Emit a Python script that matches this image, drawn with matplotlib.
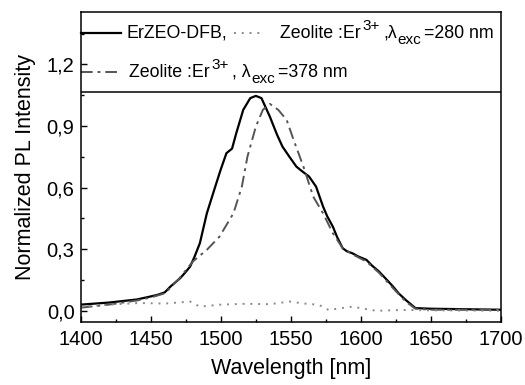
import matplotlib
matplotlib.use("Agg")
import matplotlib.pyplot as plt
from matplotlib.transforms import IdentityTransform
import numpy as np

plt.rcParams['font.family'] = ['Liberation Sans', 'DejaVu Sans']

# ErZEO-DFB (solid)
wl_dfb = [1400, 1420, 1440, 1450, 1455, 1460, 1464, 1471, 1475, 1478, 1481, 1485, 1490,
          1496, 1500, 1504, 1508, 1511, 1516, 1521, 1525, 1529, 1535, 1540, 1544, 1549,
          1554, 1558, 1563, 1568, 1573, 1576, 1580, 1583, 1587, 1590, 1594, 1598, 1604,
          1608, 1613, 1618, 1623, 1627, 1632, 1636, 1639, 1650, 1670, 1700]
pl_dfb = [0.03, 0.04, 0.055, 0.07, 0.078, 0.09, 0.118, 0.159, 0.19, 0.215, 0.26, 0.329, 0.475,
          0.605, 0.69, 0.768, 0.79, 0.865, 0.979, 1.036, 1.047, 1.036, 0.946, 0.86, 0.80, 0.75,
          0.702, 0.68, 0.654, 0.605, 0.508, 0.46, 0.41, 0.36, 0.305, 0.29, 0.28, 0.265, 0.248,
          0.22, 0.191, 0.155, 0.118, 0.085, 0.053, 0.03, 0.013, 0.01, 0.008, 0.005]

# Zeolite:Er3+, lambda_exc = 378 nm (dash-dot)
wl_378 = [1400, 1420, 1440, 1450, 1460, 1470, 1480, 1490, 1499, 1509, 1515, 1519,
          1525, 1530, 1535, 1541, 1547, 1552, 1559, 1566, 1573, 1580, 1587, 1594,
          1604, 1613, 1623, 1632, 1639, 1650, 1670, 1700]
pl_378 = [0.015, 0.03, 0.05, 0.065, 0.085, 0.155, 0.24, 0.297, 0.361, 0.475, 0.605, 0.751,
          0.897, 0.979, 1.008, 0.979, 0.93, 0.832, 0.702, 0.556, 0.475, 0.378, 0.305, 0.275,
          0.24, 0.185, 0.11, 0.045, 0.01, 0.005, 0.005, 0.005]

# Zeolite:Er3+, lambda_exc = 280 nm (dotted)
wl_280 = [1400, 1420, 1442, 1460, 1478, 1485, 1500, 1518, 1535, 1549, 1560, 1570,
          1577, 1585, 1594, 1602, 1611, 1625, 1634, 1650, 1700]
pl_280 = [0.02, 0.03, 0.038, 0.035, 0.045, 0.02, 0.03, 0.034, 0.032, 0.045, 0.035, 0.029,
          0.004, 0.012, 0.02, 0.01, 0.0, 0.003, 0.004, 0.002, 0.0]

xticks = [1400, 1450, 1500, 1550, 1600, 1650, 1700]
yticks = [0.0, 0.3, 0.6, 0.9, 1.2]
ytick_labels = ["0,0", "0,3", "0,6", "0,9", "1,2"]

fig = plt.figure(figsize=(5.25, 3.85), dpi=100)
ax = fig.add_axes([0.154, 0.164, 0.8, 0.805])

dashdot = (0, (6, 2.5, 1.5, 2.5))
dotted = (0, (1, 3))
ax.plot(wl_dfb, pl_dfb, color='black', lw=1.6, ls='-')
ax.plot(wl_378, pl_378, color='#555555', lw=1.4, ls=dashdot)
ax.plot(wl_280, pl_280, color='#8a8a8a', lw=1.4, ls=dotted)

# separator between legend area and plot
ax.axhline(1.068, color='black', lw=1.1)

ax.set_xlim(1400, 1700)
ax.set_ylim(-0.054, 1.456)
ax.set_xticks(xticks)
ax.set_xticks(np.arange(1400, 1701, 25), minor=True)
ax.set_yticks(yticks, ytick_labels)
ax.set_yticks(np.arange(0, 1.4, 0.15), minor=True)
ax.tick_params(which='both', direction='in', top=False, right=False, labelsize=14.5, width=1.0)
ax.tick_params(which='major', length=4)
ax.tick_params(which='minor', length=2.5)
ax.tick_params(axis='x', pad=6)
ax.tick_params(axis='y', pad=4.5)
for s in ax.spines.values():
    s.set_linewidth(1.1)

ax.set_xlabel('Wavelength [nm]', fontsize=15.5, labelpad=6)
ax.set_ylabel('Normalized PL Intensity', fontsize=15.5, labelpad=8)

# legend drawn by hand inside the top band (pixel positions)
renderer = fig.canvas.get_renderer()


def rich(x, y, parts):
    # parts: (text, fontsize, vertical offset px, gap after px)
    for s, size, dy, gap in parts:
        t = ax.text(x, y + dy, s, transform=IdentityTransform(), fontsize=size, va='baseline')
        x = t.get_window_extent(renderer).x1 + gap


def handle(x0, x1, y, **kw):
    ax.plot([x0, x1], [y, y], transform=IdentityTransform(), clip_on=False, **kw)


fs = 12.8
sup = 11
sub = 11
row1, row2 = 385 - 37.7, 385 - 76.7
handle(81, 121, row1 + 5, color='black', lw=1.6)
rich(126, row1, [('ErZEO-DFB,', fs, 0, 0)])
handle(234, 262, row1 + 5, color='#8a8a8a', lw=1.4, ls=dotted)
rich(280, row1, [('Zeolite :Er', fs, 0, 2), ('3+', sup, 7.5, 3), (',λ', fs, 0, 1),
                 ('exc', sub, -6, 2), ('=280 nm', fs, 0, 0)])
handle(81, 121, row2 + 5, color='#555555', lw=1.4, ls=dashdot)
rich(129, row2, [('Zeolite :Er', fs, 0, 2), ('3+', sup, 7.5, 3), (', λ', fs, 0, 1),
                 ('exc', sub, -6, 2), ('=378 nm', fs, 0, 0)])

fig.savefig('out.png', dpi=100)
